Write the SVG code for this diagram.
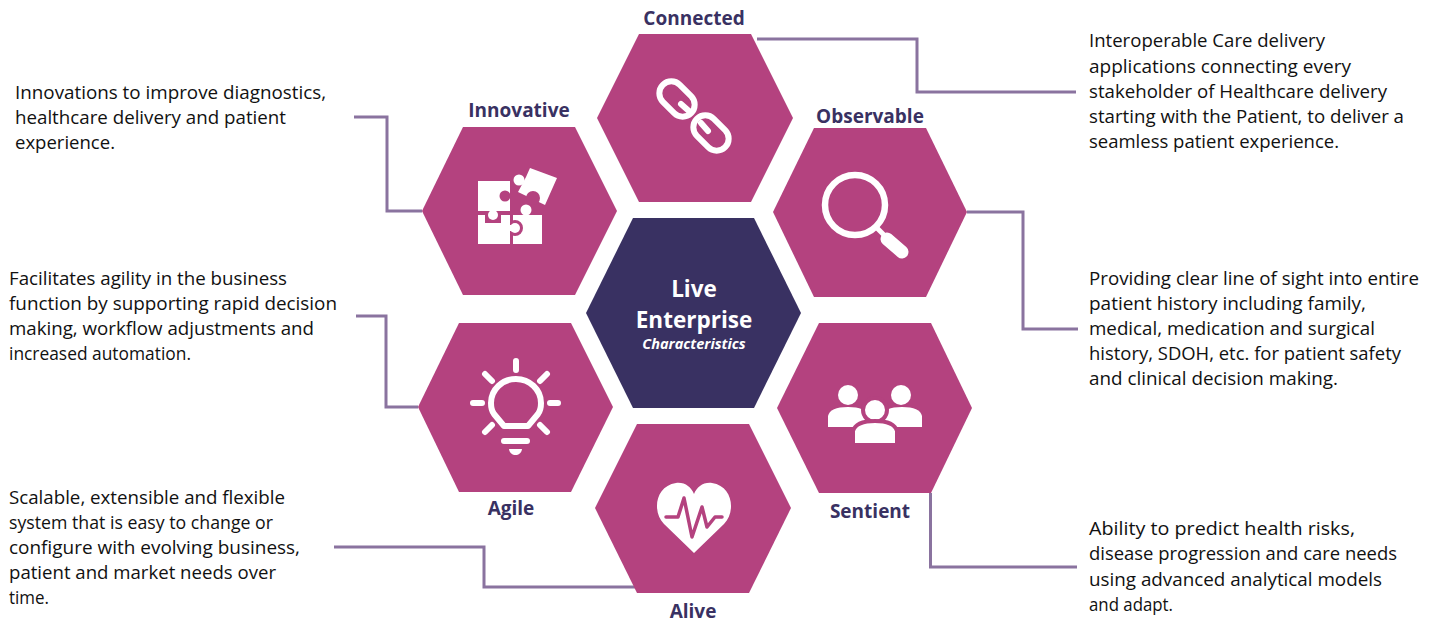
<svg xmlns="http://www.w3.org/2000/svg" width="1437" height="622" viewBox="0 0 1437 622">
<style>
.hex{fill:#b4427f}
.core{fill:#393162}
.body{font:18px "Open Sans","Noto Sans",sans-serif;fill:#111}
.lab{font:bold 19px "Open Sans","Noto Sans",sans-serif;fill:#393162;text-anchor:middle}
.ctr{font:bold 22.500px "Open Sans","Noto Sans",sans-serif;fill:#fff;text-anchor:middle}
.ctr2{font:italic bold 14.500px "Open Sans","Noto Sans",sans-serif;fill:#fff;text-anchor:middle}
.w{fill:#fff}
.ws{fill:none;stroke:#fff;stroke-width:6;stroke-linecap:round}
.conn{fill:none;stroke:#8a739f;stroke-width:3}
</style>
<rect width="1437" height="622" fill="#fff"/>
<g id="connectors">
<path class="conn" d="M757 39H917V92H1076"/>
<path class="conn" d="M967 212H1023V329H1078"/>
<path class="conn" d="M930.500 493V567H1077"/>
<path class="conn" d="M334 547H484V587H635"/>
<path class="conn" d="M356 316H386V407H418"/>
<path class="conn" d="M354 117H387V211H422"/>
</g>
<g id="center">
<polygon class="core" points="633,218 754,218 801,313 754,408 633,408 586,313"/>
<text class="ctr" x="694" y="297">Live</text>
<text class="ctr" x="694" y="328">Enterprise</text>
<text class="ctr2" x="694" y="349">Characteristics</text>
</g>
<g id="connected">
<polygon class="hex" points="639,34 751,34 793,118 751,202 639,202 597,118"/>
<g fill="none" stroke="#fff" stroke-width="6" stroke-linecap="round">
<rect x="665" y="79" width="24" height="40" rx="12" transform="rotate(-45 677 99)"/>
<rect x="699" y="113" width="24" height="40" rx="12" transform="rotate(-45 711 133)"/>
<path d="M681 104L690 112M701 123L708 131"/>
</g>
<text class="lab" x="694" y="25">Connected</text>
</g>
<g id="innovative">
<polygon class="hex" points="463,127 575,127 617,211 575,295 463,295 422,211"/>
<rect class="w" x="513" y="215" width="29" height="29"/>
<circle class="hex" cx="515" cy="228" r="8"/>
<path class="w" d="M478 215H485V223H501V215H510V244H478Z"/>
<rect class="w" x="478" y="181" width="32" height="30"/>
<circle class="hex" cx="505" cy="196" r="5.500"/>
<circle class="w" cx="493" cy="215" r="5"/>
<rect class="w" x="490" y="210" width="6" height="4"/>
<circle class="w" cx="515" cy="228" r="5"/>
<rect class="w" x="509" y="225" width="4" height="6"/>
<circle class="w" cx="526" cy="210" r="5.500"/>
<polygon class="w" points="530,168 557,178 545,205 518,192 526,177"/>
<circle class="w" cx="519" cy="180" r="5.500"/>
<circle class="hex" cx="533" cy="198" r="7"/>
<text class="lab" x="519" y="117">Innovative</text>
</g>
<g id="observable">
<polygon class="hex" points="814,128 926,128 967,212 926,297 814,297 773,212"/>
<circle cx="855" cy="205" r="30" fill="none" stroke="#fff" stroke-width="6.500"/>
<path d="M876 227L886 237" stroke="#fff" stroke-width="5" fill="none"/>
<path d="M887 239L902 252" stroke="#fff" stroke-width="13" stroke-linecap="round" fill="none"/>
<text class="lab" x="870" y="123">Observable</text>
</g>
<g id="sentient">
<polygon class="hex" points="819,323 931,323 972,408 931,493 819,493 777,408"/>
<circle class="w" cx="848" cy="395" r="10"/>
<circle class="w" cx="901" cy="395" r="10"/>
<path class="w" d="M828 427V416Q830 407 848 407T868 416V427Z"/>
<path class="w" d="M882 427V416Q884 407 902 407T922 416V427Z"/>
<circle class="w" cx="875" cy="410" r="12" stroke="#b4427f" stroke-width="4"/>
<path class="w" stroke="#b4427f" stroke-width="4" d="M853 445V431Q856 421 875 421T897 431V445Z"/>
<text class="lab" x="870" y="518">Sentient</text>
</g>
<g id="alive">
<polygon class="hex" points="637,424 749,424 791,508 749,593 637,593 595,508"/>
<path class="w" d="M694 553L664 524C652 512 655 486 676 483C685 482 691 487 694 494C697 487 703 482 712 483C733 486 736 512 724 524Z"/>
<path d="M666 517H678L684 498L692 537L702 507L707 527L715 517H722" fill="none" stroke="#b4427f" stroke-width="3.500" stroke-linejoin="round" stroke-linecap="round"/>
<text class="lab" x="693" y="618">Alive</text>
</g>
<g id="agile">
<polygon class="hex" points="459,323 571,323 613,407 571,492 459,492 418,407"/>
<path class="ws" d="M504 426L494 414C491 410 491 406 491 403A25 24 0 0 1 541 403C541 406 541 410 538 414L528 426Z" stroke-linejoin="round"/>
<path class="ws" d="M516 361V370M473 403H482M550 403H558M485 374L492 381M547 374L540 381M485 432L492 425M547 432L540 425M504 441H527" stroke-width="5"/>
<path class="w" d="M509 449H522C521 457 510 457 509 449Z"/>
<text class="lab" x="511" y="515">Agile</text>
</g>
<g id="text-connected">
<text class="body" lengthAdjust="spacingAndGlyphs" x="1089" y="47" textLength="236">Interoperable Care delivery</text>
<text class="body" lengthAdjust="spacingAndGlyphs" x="1089" y="73" textLength="262">applications connecting every</text>
<text class="body" lengthAdjust="spacingAndGlyphs" x="1089" y="98" textLength="298">stakeholder of Healthcare delivery</text>
<text class="body" lengthAdjust="spacingAndGlyphs" x="1089" y="123" textLength="315">starting with the Patient, to deliver a</text>
<text class="body" lengthAdjust="spacingAndGlyphs" x="1089" y="148" textLength="250">seamless patient experience.</text>
</g>
<g id="text-observable">
<text class="body" lengthAdjust="spacingAndGlyphs" x="1089" y="285" textLength="330">Providing clear line of sight into entire</text>
<text class="body" lengthAdjust="spacingAndGlyphs" x="1089" y="310" textLength="277">patient history including family,</text>
<text class="body" lengthAdjust="spacingAndGlyphs" x="1089" y="335" textLength="286">medical, medication and surgical</text>
<text class="body" lengthAdjust="spacingAndGlyphs" x="1089" y="360" textLength="312">history, SDOH, etc. for patient safety</text>
<text class="body" lengthAdjust="spacingAndGlyphs" x="1089" y="385" textLength="249">and clinical decision making.</text>
</g>
<g id="text-sentient">
<text class="body" lengthAdjust="spacingAndGlyphs" x="1089" y="535" textLength="266">Ability to predict health risks,</text>
<text class="body" lengthAdjust="spacingAndGlyphs" x="1089" y="560" textLength="308">disease progression and care needs</text>
<text class="body" lengthAdjust="spacingAndGlyphs" x="1089" y="586" textLength="293">using advanced analytical models</text>
<text class="body" lengthAdjust="spacingAndGlyphs" x="1089" y="611" textLength="84">and adapt.</text>
</g>
<g id="text-innovative">
<text class="body" lengthAdjust="spacingAndGlyphs" x="15" y="99" textLength="311">Innovations to improve diagnostics,</text>
<text class="body" lengthAdjust="spacingAndGlyphs" x="15" y="124" textLength="271">healthcare delivery and patient</text>
<text class="body" lengthAdjust="spacingAndGlyphs" x="15" y="149" textLength="100">experience.</text>
</g>
<g id="text-agile">
<text class="body" lengthAdjust="spacingAndGlyphs" x="9" y="285" textLength="278">Facilitates agility in the business</text>
<text class="body" lengthAdjust="spacingAndGlyphs" x="9" y="310" textLength="328">function by supporting rapid decision</text>
<text class="body" lengthAdjust="spacingAndGlyphs" x="9" y="335" textLength="305">making, workflow adjustments and</text>
<text class="body" lengthAdjust="spacingAndGlyphs" x="9" y="360" textLength="182">increased automation.</text>
</g>
<g id="text-alive">
<text class="body" lengthAdjust="spacingAndGlyphs" x="9" y="504" textLength="276">Scalable, extensible and flexible</text>
<text class="body" lengthAdjust="spacingAndGlyphs" x="9" y="529" textLength="264">system that is easy to change or</text>
<text class="body" lengthAdjust="spacingAndGlyphs" x="9" y="554" textLength="291">configure with evolving business,</text>
<text class="body" lengthAdjust="spacingAndGlyphs" x="9" y="579" textLength="267">patient and market needs over</text>
<text class="body" lengthAdjust="spacingAndGlyphs" x="9" y="604" textLength="40">time.</text>
</g>
</svg>
